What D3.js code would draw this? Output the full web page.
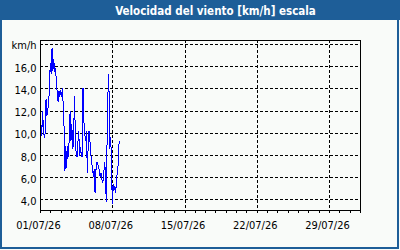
<!DOCTYPE html>
<html><head><meta charset="utf-8">
<script src="https://cdn.jsdelivr.net/npm/d3@7"></script>
<style>
html,body{margin:0;padding:0;background:#fff;}
svg{display:block;font-family:"DejaVu Sans Condensed","DejaVu Sans",sans-serif;}
</style></head>
<body>
<svg id="chart" width="400" height="250"></svg>
<script>
const title = "Velocidad del viento [km/h] escala";
const unitLabel = "km/h";
const startTime = "2026-07-01T00:00";
const stepHours = 2;
const windValues = [
  9.4,10.9,9.7,12.0,10.3,9.5,10.0,13.0,11.5,12.2,
  12.3,14.5,16.3,15.3,17.6,15.6,16.6,15.5,15.8,14.7,
  13.6,12.8,13.8,13.2,13.8,13.2,14.0,12.5,10.4,6.6,
  8.8,6.8,8.8,7.8,9.5,12.0,9.3,10.8,8.5,9.0,
  13.3,10.2,8.1,7.8,9.0,10.2,7.9,8.7,8.0,7.8,
  14.0,11.1,9.9,9.3,10.2,6.4,8.8,10.2,9.3,8.2,
  7.3,6.9,6.0,6.7,4.6,6.6,7.4,7.2,7.0,6.6,
  6.0,6.4,5.8,5.5,6.1,7.4,6.6,3.8,9.4,13.6,
  15.3,8.5,9.6,8.0,3.6,5.4,4.8,5.2,4.6,5.8,
  6.5,7.2,9.3
];
const yTicks = [4,6,8,10,12,14,16,18];
const xTickDates = ["2026-07-01","2026-07-08","2026-07-15","2026-07-22","2026-07-29"];
const xDomain = ["2026-07-01","2026-08-01"];
const yDomain = [3.05, 18.35];

const parse = d3.timeParse("%Y-%m-%dT%H:%M");
const parseDay = d3.timeParse("%Y-%m-%d");
const t0 = parse(startTime);
const data = windValues.map((v,i)=>({t:d3.timeHour.offset(t0,i*stepHours), v}));

const svg = d3.select("#chart");
const W=400,H=250;

svg.append("rect").attr("x",0).attr("y",0).attr("width",W).attr("height",H).attr("fill","#f9fbf9");
svg.append("rect").attr("x",1).attr("y",1).attr("width",397).attr("height",247)
  .attr("fill","none").attr("stroke","#1e5e98").attr("stroke-width",2);
svg.append("rect").attr("x",0).attr("y",0).attr("width",W).attr("height",20).attr("fill","#1e5e98");
svg.append("text").attr("x",215.5).attr("y",14.5).attr("text-anchor","middle")
  .attr("fill","#fff").attr("font-weight","bold").attr("font-size","11.5px").text(title);

const x = d3.scaleTime().domain(xDomain.map(parseDay)).range([40,360]);
const y = d3.scaleLinear().domain(yDomain).range([210,40]);

const g = svg.append("g");
g.selectAll("line.hg").data(yTicks).join("line")
  .attr("x1",40).attr("x2",360)
  .attr("y1",d=>Math.round(y(d))+0.5).attr("y2",d=>Math.round(y(d))+0.5)
  .attr("stroke","#000").attr("stroke-dasharray","3,2").attr("shape-rendering","crispEdges");
g.selectAll("line.vg").data(xTickDates.slice(1).map(parseDay)).join("line")
  .attr("y1",40).attr("y2",210)
  .attr("x1",d=>Math.round(x(d))+0.5).attr("x2",d=>Math.round(x(d))+0.5)
  .attr("stroke","#000").attr("stroke-dasharray","3,2").attr("shape-rendering","crispEdges");

const xAxis = d3.axisBottom(x).ticks(d3.timeDay.every(1)).tickSize(3).tickFormat("");
const xa = svg.append("g").attr("transform","translate(0,210)").call(xAxis);
xa.select(".domain").remove();
xa.selectAll("line").attr("stroke","#000").attr("shape-rendering","crispEdges");

svg.selectAll("text.xl").data(xTickDates.map(parseDay)).join("text")
  .attr("x",d=>x(d)-1.5).attr("y",229).attr("text-anchor","middle")
  .attr("font-size","11px").attr("fill","#000")
  .text(d=>d3.timeFormat("%d/%m/%y")(d));

svg.selectAll("text.yl").data(yTicks).join("text")
  .attr("x",36.5).attr("y",d=>y(d)+5.5).attr("text-anchor","end")
  .attr("font-size","11px").attr("fill","#000")
  .text(d=> d===18 ? unitLabel : d3.format(".1f")(d).replace(".",","));

const line = d3.line().x(d=>x(d.t)).y(d=>y(d.v));
svg.append("path").datum(data).attr("d",line)
  .attr("fill","none").attr("stroke","#0000ff").attr("stroke-width",1)
  .attr("shape-rendering","crispEdges");

svg.append("rect").attr("x",40.5).attr("y",40.5).attr("width",320).attr("height",170)
  .attr("fill","none").attr("stroke","#000").attr("stroke-width",1).attr("shape-rendering","crispEdges");
</script>
</body></html>
